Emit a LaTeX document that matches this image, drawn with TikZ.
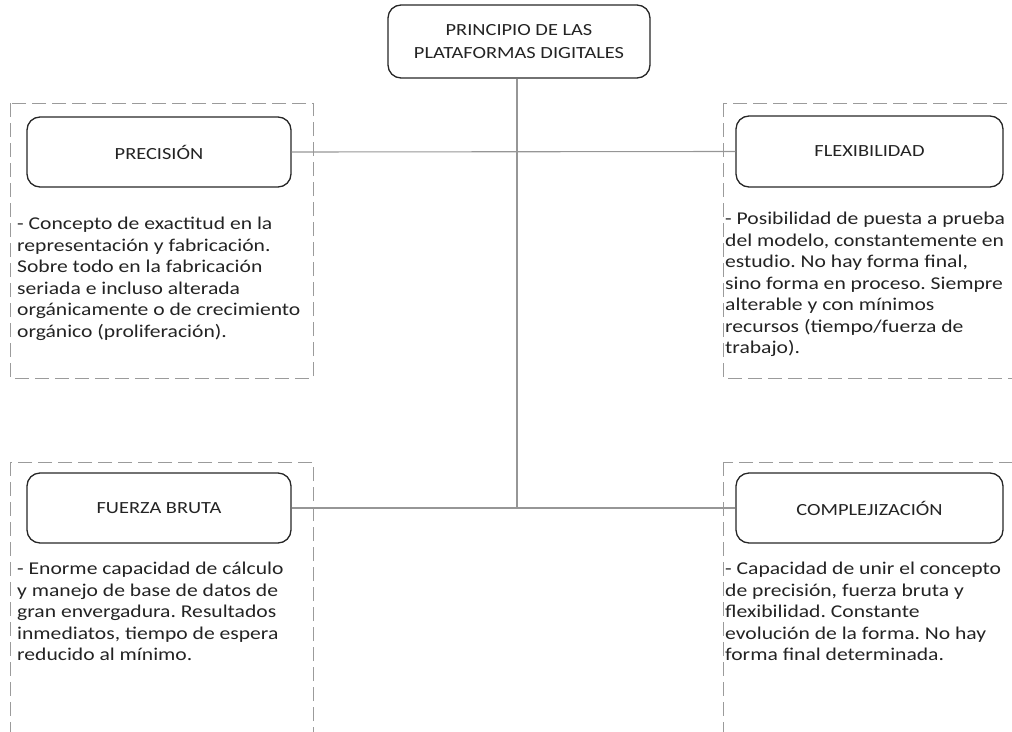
\documentclass[tikz,border=0pt]{standalone}
\usepackage{fontspec}
\setmainfont{Carlito}
\newfontfamily\wide[FakeStretch=1.2]{Carlito}
\usetikzlibrary{positioning}
\definecolor{linegray}{RGB}{150,150,150}
\definecolor{dashgray}{RGB}{155,155,155}
\definecolor{txt}{RGB}{35,35,35}
\tikzset{
  x=1pt, y=-1pt,
  titlebox/.style={draw=black!85, line width=1.3pt, rounded corners=13pt, inner sep=0pt, text=txt, align=center, font=\wide\fontsize{17}{22.5}\selectfont},
  body/.style={anchor=north west, inner sep=0pt, align=left, text=txt, font=\wide\fontsize{18}{21.5}\selectfont},
  frame/.style={draw=dashgray, line width=0.9pt, dash pattern=on 14pt off 6pt},
  conn/.style={draw=linegray, line width=1.1pt},
}
\begin{document}
\frenchspacing
\begin{tikzpicture}
\useasboundingbox (0,0) rectangle (1012,731);
\begin{scope}
\clip (0,0) rectangle (1012,731);
% dashed frames
\draw[frame] (10,103) rectangle (313,378);
\draw[frame] (723,103) rectangle (1030,378);
\draw[frame] (10,462) rectangle (313,760);
\draw[frame] (723,462) rectangle (1030,760);
\end{scope}
% title
\node[titlebox, minimum width=262pt, minimum height=73pt] (top) at (519,41.5) {PRINCIPIO DE LAS\\PLATAFORMAS DIGITALES};
% boxes
\node[titlebox, minimum width=264pt, minimum height=70pt] (prec) at (159,152) {PRECISIÓN};
\node[titlebox, minimum width=267pt, minimum height=71pt] (flex) at (869.5,151.5) {FLEXIBILIDAD};
\node[titlebox, minimum width=264pt, minimum height=70pt] (fuer) at (159,508) {FUERZA BRUTA};
\node[titlebox, minimum width=267pt, minimum height=70pt] (comp) at (869.5,508) {COMPLEJIZACIÓN};
% connectors
\coordinate (j2) at (517,508);
\draw[conn] (top.south) ++(-2,0) coordinate (ts) -- (j2);
\draw[conn] (prec.east) -- (flex.west);
\draw[conn] (fuer.east) -- (comp.west);
% texts
\node[body] (tprec) at (17,217) {- Concepto de exactitud en la\\representación y fabricación.\\Sobre todo en la fabricación\\seriada e incluso alterada\\orgánicamente o de crecimiento\\orgánico (proliferación).};
\node[body] (tflex) at (725,212) {- Posibilidad de puesta a prueba\\del modelo, constantemente en\\estudio. No hay forma final,\\sino forma en proceso. Siempre\\alterable y con mínimos\\recursos (tiempo/fuerza de\\trabajo).};
\node[body] (tfuer) at (17,562) {- Enorme capacidad de cálculo\\y manejo de base de datos de\\gran envergadura. Resultados\\inmediatos, tiempo de espera\\reducido al mínimo.};
\node[body] (tcomp) at (725,562) {- Capacidad de unir el concepto\\de precisión, fuerza bruta y\\flexibilidad. Constante\\evolución de la forma. No hay\\forma final determinada.};
\end{tikzpicture}
\end{document}
